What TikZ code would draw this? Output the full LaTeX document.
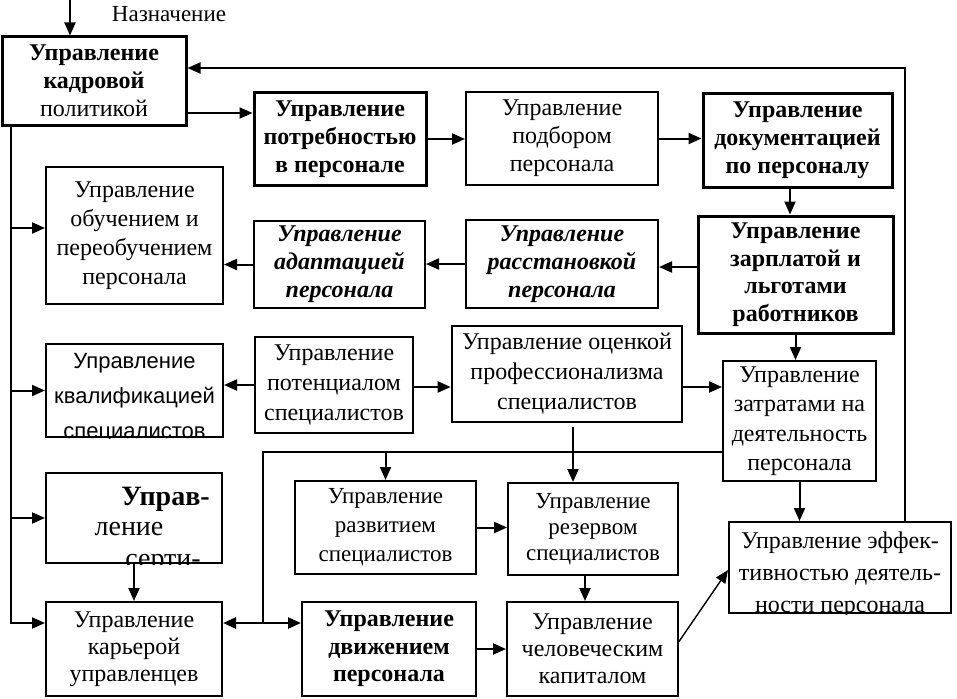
\documentclass[tikz,border=0pt]{standalone}
\usepackage{fontspec}
\setmainfont{Liberation Serif}
\newfontfamily\sansf{Liberation Sans}
\usetikzlibrary{arrows.meta,calc}
\tikzset{
  box/.style={draw, line width=2pt, align=center, inner sep=0pt, font=\fontsize{24}{28}\selectfont},
  tbox/.style={box, line width=3pt},
  arr/.style={line width=2pt, -{Triangle[length=13pt,width=11pt]}},
  arrtwo/.style={line width=2.6pt, {Triangle[length=13pt,width=11pt]}-{Triangle[length=13pt,width=11pt]}},
  ln/.style={line width=2pt},
  lbl/.style={font=\fontsize{23}{26}\selectfont, inner sep=0pt}
}
\begin{document}
\begin{tikzpicture}[x=1pt,y=-1pt]
\useasboundingbox (0,0) rectangle (957,698);
% boxes
\node[tbox, minimum width=184pt, minimum height=88pt] (A) at (94,81) {\textbf{Управление}\\\textbf{кадровой}\\политикой};
\node[tbox, minimum width=172pt, minimum height=92pt] (B) at (340,139) {\textbf{Управление}\\\textbf{потребностью}\\\textbf{в персонале}};
\node[box, minimum width=192pt, minimum height=93pt] (C) at (562,138.5) {Управление\\подбором\\персонала};
\node[tbox, minimum width=189pt, minimum height=93pt] (D) at (797.5,140.5) {\textbf{Управление}\\\textbf{документацией}\\\textbf{по персоналу}};
\node[tbox, minimum width=195pt, minimum height=117pt, font=\fontsize{24}{27.5}\selectfont] (E) at (795.5,274.5) {\textbf{Управление}\\\textbf{зарплатой и}\\\textbf{льготами}\\\textbf{работников}};
\node[box, minimum width=192pt, minimum height=88pt] (F) at (562,264) {\textbf{\textit{Управление}}\\\textbf{\textit{расстановкой}}\\\textbf{\textit{персонала}}};
\node[box, minimum width=171pt, minimum height=87pt] (G) at (339.5,264.5) {\textbf{\textit{Управление}}\\\textbf{\textit{адаптацией}}\\\textbf{\textit{персонала}}};
\node[box, minimum width=177pt, minimum height=137pt, font=\fontsize{24}{29}\selectfont] (H) at (134.5,235.5) {Управление\\обучением и\\переобучением\\персонала};
\node[box, minimum width=177pt, minimum height=93pt] (I) at (134.5,390.5) {};
\node[box, minimum width=158pt, minimum height=96pt, font=\fontsize{24}{30}\selectfont] (J) at (334,385) {Управление\\потенциалом\\специалистов};
\node[box, line width=2.6pt, minimum width=230pt, minimum height=96pt, font=\fontsize{24}{30}\selectfont] (K) at (567,374) {Управление оценкой\\профессионализма\\специалистов};
\node[box, minimum width=153pt, minimum height=120pt, font=\fontsize{24}{29.5}\selectfont] (L) at (799.5,421) {Управление\\затратами на\\деятельность\\персонала};
\node[box, minimum width=176pt, minimum height=90pt] (M) at (134,518) {};
\node[box, minimum width=176pt, minimum height=94pt, font=\fontsize{24}{27}\selectfont] (N) at (134,649) {Управление\\карьерой\\управленцев};
\node[box, minimum width=181pt, minimum height=93pt, font=\fontsize{23}{29}\selectfont] (O) at (385.5,527.5) {Управление\\развитием\\специалистов};
\node[box, minimum width=174pt, minimum height=94pt, font=\fontsize{24}{27.5}\selectfont] (P) at (389,649) {\textbf{Управление}\\\textbf{движением}\\\textbf{персонала}};
\node[box, minimum width=170pt, minimum height=92pt, font=\fontsize{23}{26}\selectfont] (Q) at (593,529) {Управление\\резервом\\специалистов};
\node[box, minimum width=171pt, minimum height=94pt, font=\fontsize{24}{27}\selectfont] (R) at (592.5,649) {Управление\\человеческим\\капиталом};
\node[box, minimum width=222pt, minimum height=91pt] (S) at (840,567.5) {};
% clipped texts
\begin{scope}
\clip (I.south west) rectangle (I.north east);
\node[align=center, inner sep=0pt, font=\sansf\fontsize{22}{35}\selectfont] (Itext) at (134.5,398) {Управление\\квалификацией\\специалистов};
\end{scope}
\begin{scope}
\clip (M.south west) rectangle (M.north east);
\node[inner sep=0pt, font=\fontsize{28}{30}\selectfont] (Mt1) at (165.5,499) {\textbf{Управ-}};
\node[inner sep=0pt, font=\fontsize{28}{30}\selectfont] (Mt2) at (129,529) {ление};
\node[inner sep=0pt, font=\fontsize{28}{30}\selectfont] (Mt3) at (163,564) {серти-};
\end{scope}
\begin{scope}
\clip (S.south west) rectangle (S.north east);
\node[align=center, inner sep=0pt, font=\fontsize{24}{32}\selectfont] (Stext) at (840,575) {Управление эффек-\\тивностью деятель-\\ности персонала};
\end{scope}
% label
\node[lbl] (nazn) at (169,14) {Назначение};
% connectors
\coordinate (in) at (70,0);
\draw[arr] (in) -- (in |- A.north);
\draw[arr] ([yshift=-32pt]A.east) coordinate (ab) -- (ab -| B.west);
\draw[arr] (B.east) -- (B.east -| C.west);
\draw[arr] (C.east) -- (C.east -| D.west);
\draw[arr] ([xshift=-7.5pt]D.south) coordinate (de) -- (de |- E.north);
\draw[arr] ([yshift=7.5pt]E.west) coordinate (ef) -- (ef -| F.east);
\draw[arr] (F.west) -- (F.west -| G.east);
\draw[arr] (G.west) -- (G.west -| H.east);
% left trunk
\coordinate (trunk) at ([xshift=10pt]A.south west);
\draw[arr] (trunk) |- ([yshift=26pt]N.west);
\path ([yshift=7.5pt]H.west) coordinate (h1);
\draw[arr] (trunk |- h1) -- (h1);
\draw[arr] (trunk |- I.west) -- (I.west);
\draw[arr] (trunk |- M.west) -- (M.west);
% middle row
\draw[arr] (J.west) -- (J.west -| I.east);
\draw[arr] ([yshift=-2pt]J.east) coordinate (jk) -- (jk -| K.west);
\draw[arr] ([yshift=-13pt]K.east) coordinate (kl) -- (kl -| L.west);
\draw[arr] (E.south) -- (E.south |- L.north);
\draw[arr] ([xshift=6pt,yshift=-4pt]K.south) coordinate (kq) -- (kq |- Q.north);
% line from L to the double arrow
\coordinate (j) at (263,623);
\draw[ln] ([yshift=-31pt]L.west) coordinate (lw) -| (j);
\draw[arr] (O.north |- lw) -- (O.north);
\draw[arrtwo] ([yshift=26pt]N.east) coordinate (np) -- (np -| P.west);
\draw[arr] (M.south) -- (N.north);
\draw[arr] (O.east) -- (O.east -| Q.west);
\draw[arr] ([xshift=-8pt]Q.south) coordinate (qr) -- (qr |- R.north);
\draw[arr] (P.east) -- (P.east -| R.west);
\draw[line width=1.4pt, -{Triangle[length=13pt,width=11pt]}] ([yshift=7.5pt]R.east) -- ([yshift=-2.5pt]S.west);
\draw[arr] (L.south) -- (L.south |- S.north);
\draw[arr] ([xshift=65pt]S.north) |- ([yshift=13pt]A.east);
\end{tikzpicture}
\end{document}
